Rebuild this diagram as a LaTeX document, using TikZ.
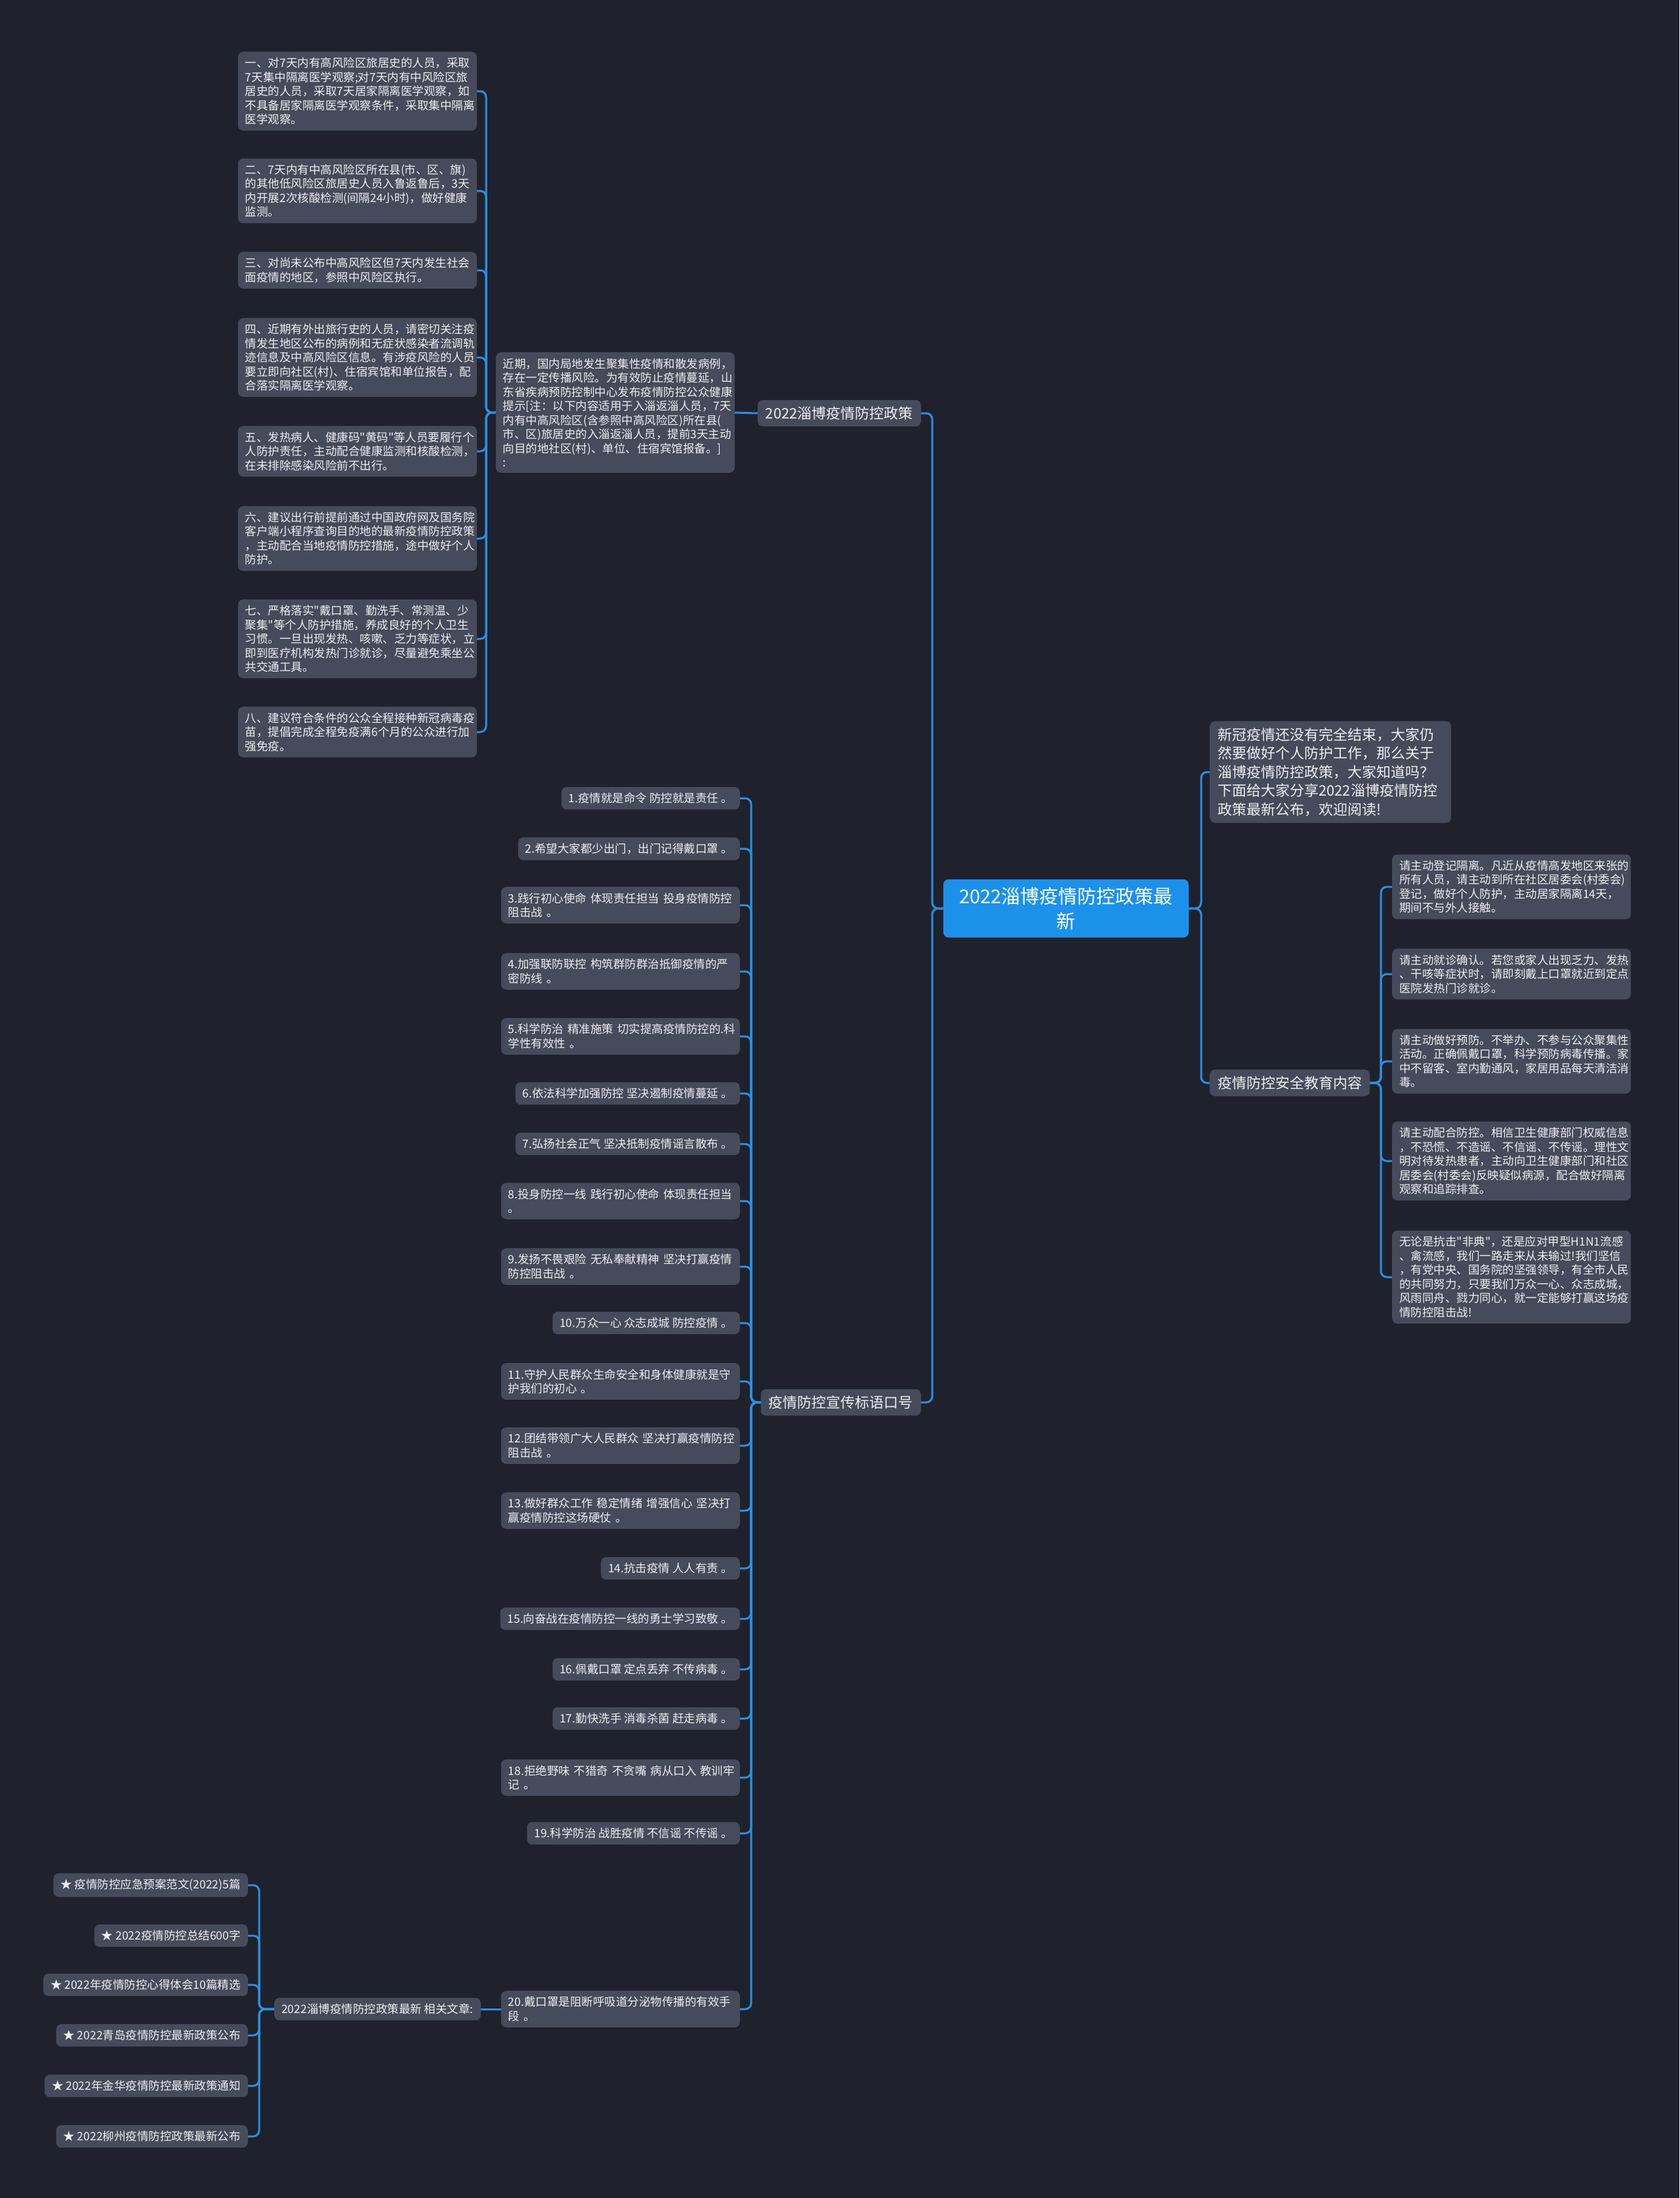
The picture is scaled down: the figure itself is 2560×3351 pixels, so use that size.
\documentclass[tikz,border=0pt]{standalone}
\usepackage{fontspec}
\setmainfont{Noto Sans CJK SC}[Ligatures=TeXOff]
\definecolor{bg}{HTML}{1F222D}
\definecolor{nodefill}{HTML}{454B5B}
\definecolor{txt}{HTML}{EEEEEE}
\definecolor{linec}{HTML}{2A8FE3}
\definecolor{centerc}{HTML}{1C91EA}
\begin{document}
\begin{tikzpicture}[x=1pt,y=-1pt,
  box/.style={fill=nodefill, rounded corners=8pt, text=txt, inner xsep=11pt, inner ysep=9pt, font=\fontsize{17.5}{21.5}\selectfont, align=left},
  lbox/.style={box, text width=342pt},
  mbox/.style={box, inner xsep=12pt, inner ysep=10pt, font=\fontsize{22}{28.5}\selectfont},
  cbox/.style={fill=centerc, rounded corners=8pt, text=white, inner xsep=22pt, inner ysep=12pt, font=\fontsize{29}{38}\selectfont, align=center, text width=330pt},
  conn/.style={draw=linec, line width=3pt, rounded corners=9pt}]
\useasboundingbox[fill=bg] (0,0) rectangle (2560,3351);

% centre
\node[cbox] (C) at (1625,1385) {2022淄博疫情防控政策最\\新};

% level 1
\node[mbox, anchor=east] (P1) at (1404,630) {2022淄博疫情防控政策};
\node[mbox, anchor=east] (P2) at (1404,2138) {疫情防控宣传标语口号};
\node[mbox, anchor=west, text width=344pt] (P3) at (1844,1177) {新冠疫情还没有完全结束，大家仍\\然要做好个人防护工作，那么关于\\淄博疫情防控政策，大家知道吗？\\下面给大家分享2022淄博疫情防控\\政策最新公布，欢迎阅读!};
\node[mbox, anchor=west] (P4) at (1844,1651) {疫情防控安全教育内容};

% policy branch
\node[lbox, anchor=east] (Q) at (1120,629) {近期，国内局地发生聚集性疫情和散发病例，\\存在一定传播风险。为有效防止疫情蔓延，山\\东省疾病预防控制中心发布疫情防控公众健康\\提示[注：以下内容适用于入淄返淄人员，7天\\内有中高风险区(含参照中高风险区)所在县(\\市、区)旅居史的入淄返淄人员，提前3天主动\\向目的地社区(村)、单位、住宿宾馆报备。]\\:};

\node[lbox, anchor=east] (L1) at (727,139) {一、对7天内有高风险区旅居史的人员，采取\\7天集中隔离医学观察;对7天内有中风险区旅\\居史的人员，采取7天居家隔离医学观察，如\\不具备居家隔离医学观察条件，采取集中隔离\\医学观察。};
\node[lbox, anchor=east] (L2) at (727,291) {二、7天内有中高风险区所在县(市、区、旗)\\的其他低风险区旅居史人员入鲁返鲁后，3天\\内开展2次核酸检测(间隔24小时)，做好健康\\监测。};
\node[lbox, anchor=east] (L3) at (727,412) {三、对尚未公布中高风险区但7天内发生社会\\面疫情的地区，参照中风险区执行。};
\node[lbox, anchor=east] (L4) at (727,545) {四、近期有外出旅行史的人员，请密切关注疫\\情发生地区公布的病例和无症状感染者流调轨\\迹信息及中高风险区信息。有涉疫风险的人员\\要立即向社区(村)、住宿宾馆和单位报告，配\\合落实隔离医学观察。};
\node[lbox, anchor=east] (L5) at (727,688) {五、发热病人、健康码"黄码"等人员要履行个\\人防护责任，主动配合健康监测和核酸检测，\\在未排除感染风险前不出行。};
\node[lbox, anchor=east] (L6) at (727,821) {六、建议出行前提前通过中国政府网及国务院\\客户端小程序查询目的地的最新疫情防控政策\\，主动配合当地疫情防控措施，途中做好个人\\防护。};
\node[lbox, anchor=east] (L7) at (727,974) {七、严格落实"戴口罩、勤洗手、常测温、少\\聚集"等个人防护措施，养成良好的个人卫生\\习惯。一旦出现发热、咳嗽、乏力等症状，立\\即到医疗机构发热门诊就诊，尽量避免乘坐公\\共交通工具。};
\node[lbox, anchor=east] (L8) at (727,1116) {八、建议符合条件的公众全程接种新冠病毒疫\\苗，提倡完成全程免疫满6个月的公众进行加\\强免疫。};

% slogans
\node[box, anchor=east] (S1) at (1128,1217) {1.疫情就是命令~防控就是责任~。};
\node[box, anchor=east] (S2) at (1128,1294) {2.希望大家都少出门，出门记得戴口罩~。};
\node[lbox, anchor=east] (S3) at (1128,1380) {3.践行初心使命~体现责任担当~投身疫情防控\\阻击战~。};
\node[lbox, anchor=east] (S4) at (1128,1481) {4.加强联防联控~构筑群防群治抵御疫情的严\\密防线~。};
\node[lbox, anchor=east] (S5) at (1128,1580) {5.科学防治~精准施策~切实提高疫情防控的.科\\学性有效性~。};
\node[box, anchor=east] (S6) at (1128,1667) {6.依法科学加强防控~坚决遏制疫情蔓延~。};
\node[box, anchor=east] (S7) at (1128,1744) {7.弘扬社会正气~坚决抵制疫情谣言散布~。};
\node[lbox, anchor=east] (S8) at (1128,1831) {8.投身防控一线~践行初心使命~体现责任担当\\。};
\node[lbox, anchor=east] (S9) at (1128,1931) {9.发扬不畏艰险~无私奉献精神~坚决打赢疫情\\防控阻击战~。};
\node[box, anchor=east] (S10) at (1128,2017) {10.万众一心~众志成城~防控疫情~。};
\node[lbox, anchor=east] (S11) at (1128,2106) {11.守护人民群众生命安全和身体健康就是守\\护我们的初心~。};
\node[lbox, anchor=east] (S12) at (1128,2204) {12.团结带领广大人民群众~坚决打赢疫情防控\\阻击战~。};
\node[lbox, anchor=east] (S13) at (1128,2303) {13.做好群众工作~稳定情绪~增强信心~坚决打\\赢疫情防控这场硬仗~。};
\node[box, anchor=east] (S14) at (1128,2391) {14.抗击疫情~人人有责~。};
\node[box, anchor=east] (S15) at (1128,2468) {15.向奋战在疫情防控一线的勇士学习致敬~。};
\node[box, anchor=east] (S16) at (1128,2545) {16.佩戴口罩~定点丢弃~不传病毒~。};
\node[box, anchor=east] (S17) at (1128,2620) {17.勤快洗手~消毒杀菌~赶走病毒~。};
\node[lbox, anchor=east] (S18) at (1128,2710) {18.拒绝野味~不猎奇~不贪嘴~病从口入~教训牢\\记~。};
\node[box, anchor=east] (S19) at (1128,2795) {19.科学防治~战胜疫情~不信谣~不传谣~。};
\node[lbox, anchor=east] (S20) at (1128,3063) {20.戴口罩是阻断呼吸道分泌物传播的有效手\\段~。};

% related articles
\node[box, anchor=east] (R) at (733,3063) {2022淄博疫情防控政策最新 相关文章:};
\node[box, anchor=east] (A1) at (378,2874) {★ 疫情防控应急预案范文(2022)5篇};
\node[box, anchor=east] (A2) at (378,2951) {★ 2022疫情防控总结600字};
\node[box, anchor=east] (A3) at (378,3026) {★ 2022年疫情防控心得体会10篇精选};
\node[box, anchor=east] (A4) at (378,3103) {★ 2022青岛疫情防控最新政策公布};
\node[box, anchor=east] (A5) at (378,3180) {★ 2022年金华疫情防控最新政策通知};
\node[box, anchor=east] (A6) at (378,3257) {★ 2022柳州疫情防控政策最新公布};

% right leaves
\node[lbox, anchor=west] (E1) at (2122,1352) {请主动登记隔离。凡近从疫情高发地区来张的\\所有人员，请主动到所在社区居委会(村委会)\\登记，做好个人防护，主动居家隔离14天，\\期间不与外人接触。};
\node[lbox, anchor=west] (E2) at (2122,1485) {请主动就诊确认。若您或家人出现乏力、发热\\、干咳等症状时，请即刻戴上口罩就近到定点\\医院发热门诊就诊。};
\node[lbox, anchor=west] (E3) at (2122,1618) {请主动做好预防。不举办、不参与公众聚集性\\活动。正确佩戴口罩，科学预防病毒传播。家\\中不留客、室内勤通风，家居用品每天清洁消\\毒。};
\node[lbox, anchor=west] (E4) at (2122,1770) {请主动配合防控。相信卫生健康部门权威信息\\，不恐慌、不造谣、不信谣、不传谣。理性文\\明对待发热患者，主动向卫生健康部门和社区\\居委会(村委会)反映疑似病源，配合做好隔离\\观察和追踪排查。};
\node[lbox, anchor=west] (E5) at (2122,1947) {无论是抗击"非典"，还是应对甲型H1N1流感\\、禽流感，我们一路走来从未输过!我们坚信\\，有党中央、国务院的坚强领导，有全市人民\\的共同努力，只要我们万众一心、众志成城，\\风雨同舟、戮力同心，就一定能够打赢这场疫\\情防控阻击战!};

% bus coordinates
\coordinate (bC) at (1421,0);
\coordinate (bR) at (1831,0);
\coordinate (bQ) at (741,0);
\coordinate (bS) at (1145,0);
\coordinate (bA) at (395,0);
\coordinate (bE) at (2105,0);

% connectors
\foreach \n in {P1,P2} \draw[conn] (C.west) -- (bC |- C.west) |- (\n.east);
\foreach \n in {P3,P4} \draw[conn] (C.east) -- (bR |- C.east) |- (\n.west);
\draw[conn] (P1.west) -- (Q.east);
\foreach \n in {L1,L2,L3,L4,L5,L6,L7,L8} \draw[conn] (Q.west) -- (bQ |- Q.west) |- (\n.east);
\foreach \n in {S1,S2,S3,S4,S5,S6,S7,S8,S9,S10,S11,S12,S13,S14,S15,S16,S17,S18,S19,S20} \draw[conn] (P2.west) -- (bS |- P2.west) |- (\n.east);
\draw[conn] (S20.west) -- (R.east);
\foreach \n in {A1,A2,A3,A4,A5,A6} \draw[conn] (R.west) -- (bA |- R.west) |- (\n.east);
\foreach \n in {E1,E2,E3,E4,E5} \draw[conn] (P4.east) -- (bE |- P4.east) |- (\n.west);
\end{tikzpicture}
\end{document}
